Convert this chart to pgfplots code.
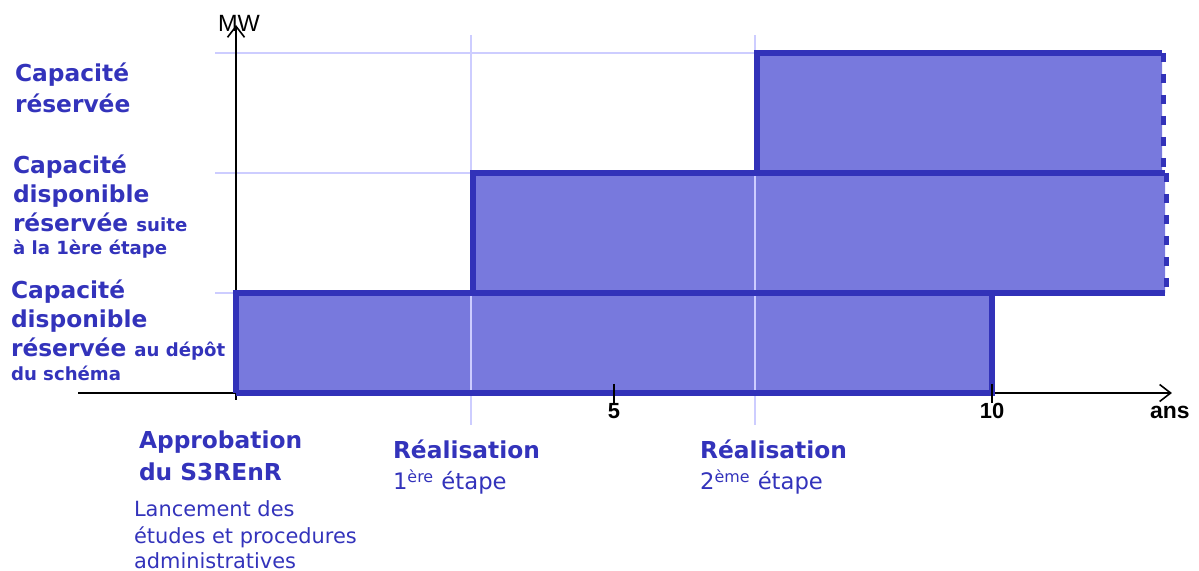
\documentclass[border=0pt]{standalone}
\usepackage{pgfplots}
\pgfplotsset{compat=1.18}
\usetikzlibrary{arrows.meta}
\usepackage{fontspec}
\setmainfont{DejaVu Sans}
\newfontfamily\arialfont{Liberation Sans}
\definecolor{fillc}{RGB}{120,121,221}
\definecolor{borderc}{RGB}{50,50,185}
\definecolor{textc}{RGB}{51,51,187}
\definecolor{gridc}{RGB}{205,205,255}
\newcommand\bl{\fontsize{11.7}{14}\selectfont\bfseries}
\newcommand\sbl{\fontsize{9.1}{11}\selectfont\bfseries}
\newcommand\rg{\fontsize{11.4}{14}\selectfont}
\newcommand\srg{\fontsize{10.5}{13}\selectfont}
\begin{document}
\begin{tikzpicture}
\begin{axis}[width=599.5bp,height=285.5bp,scale only axis,hide axis,
  xmin=-3.122,xmax=12.738,ymin=-1.78,ymax=3.93,clip=false]
\path (rel axis cs:0,0) rectangle (rel axis cs:1,1);
% fills
\addplot[fill=fillc,draw=none] coordinates {(0,0)(10,0)(10,1)(0,1)(0,0)};
\addplot[fill=fillc,draw=none] coordinates {(3.135,1)(12.29,1)(12.29,2.2)(3.135,2.2)(3.135,1)};
\addplot[fill=fillc,draw=none] coordinates {(6.892,2.2)(12.25,2.2)(12.25,3.4)(6.892,3.4)(6.892,2.2)};
% light guide lines
\addplot[gridc,line width=1bp] coordinates {(3.11,-0.32)(3.11,3.58)};
\addplot[gridc,line width=1bp] coordinates {(6.865,-0.32)(6.865,3.58)};
\addplot[gridc,line width=1bp] coordinates {(-0.278,1)(3.2,1)};
\addplot[gridc,line width=1bp] coordinates {(-0.278,2.2)(7.0,2.2)};
\addplot[gridc,line width=1bp] coordinates {(-0.278,3.4)(7.0,3.4)};
% axes
\addplot[black,line width=0.8bp,-{Straight Barb[length=5.5bp,width=8.5bp]}] coordinates {(-2.09,0)(12.38,0)};
\addplot[black,line width=0.8bp,-{Straight Barb[length=5.5bp,width=8.5bp]}] coordinates {(0,-0.07)(0,3.68)};
% borders
\addplot[borderc,line width=2.6bp] coordinates {(0,0)(10,0)(10,1)(0,1)(0,0)};
\addplot[borderc,line width=2.6bp] coordinates {(12.29,1)(3.135,1)(3.135,2.2)(12.29,2.2)};
\addplot[borderc,line width=2.6bp] coordinates {(12.25,3.4)(6.892,3.4)(6.892,2.2)};
\addplot[borderc,line width=2.8bp,dash pattern=on 4.5bp off 6bp] coordinates {(12.31,2.2)(12.31,1)};
\addplot[borderc,line width=2.8bp,dash pattern=on 4.5bp off 6bp] coordinates {(12.27,3.4)(12.27,2.2)};
% ticks
\addplot[black,line width=1.2bp] coordinates {(5,0.09)(5,-0.10)};
\addplot[black,line width=1.2bp] coordinates {(10,0.09)(10,-0.10)};
\begin{scope}[every node/.append style={inner sep=0pt,outer sep=0pt}]
% tick labels
\node[anchor=base,font=\arialfont\fontsize{11}{13}\selectfont\bfseries] at (axis cs:5,-0.26) {5};
\node[anchor=base,font=\arialfont\fontsize{11}{13}\selectfont\bfseries] at (axis cs:10,-0.26) {10};
\node[anchor=base,font=\arialfont\fontsize{11.5}{13}\selectfont\bfseries] at (axis cs:12.354,-0.26) {ans};
\node[anchor=base west,font=\arialfont\fontsize{11.8}{13}\selectfont] at (axis cs:-0.238,3.61) {MW};
\end{scope}
% left labels
\begin{scope}[every node/.append style={text=textc,anchor=base west,inner sep=0pt,outer sep=0pt}]
\node[font=\bl] at (axis cs:-2.923,3.11) {Capacité};
\node[font=\bl] at (axis cs:-2.923,2.80) {réservée};
\node[font=\bl] at (axis cs:-2.950,2.19) {Capacité};
\node[font=\bl] at (axis cs:-2.950,1.90) {disponible};
\node[font=\bl] at (axis cs:-2.950,1.61) {réservée {\sbl suite}};
\node[font=\sbl] at (axis cs:-2.950,1.38) {à la 1ère étape};
\node[font=\bl] at (axis cs:-2.976,0.94) {Capacité};
\node[font=\bl] at (axis cs:-2.976,0.65) {disponible};
\node[font=\bl] at (axis cs:-2.976,0.36) {réservée {\sbl au dépôt}};
\node[font=\sbl] at (axis cs:-2.976,0.12) {du schéma};
% bottom labels
\node[font=\bl] at (axis cs:-1.283,-0.56) {Approbation};
\node[font=\bl] at (axis cs:-1.283,-0.88) {du S3REnR};
\node[font=\srg] at (axis cs:-1.349,-1.23) {Lancement des};
\node[font=\srg] at (axis cs:-1.349,-1.50) {études et procedures};
\node[font=\srg] at (axis cs:-1.349,-1.75) {administratives};
\node[font=\bl] at (axis cs:2.077,-0.66) {Réalisation};
\node[font=\rg] at (axis cs:2.077,-0.97) {1\textsuperscript{ère} étape};
\node[font=\bl] at (axis cs:6.138,-0.66) {Réalisation};
\node[font=\rg] at (axis cs:6.138,-0.97) {2\textsuperscript{ème} étape};
\end{scope}
\end{axis}
\end{tikzpicture}
\end{document}
